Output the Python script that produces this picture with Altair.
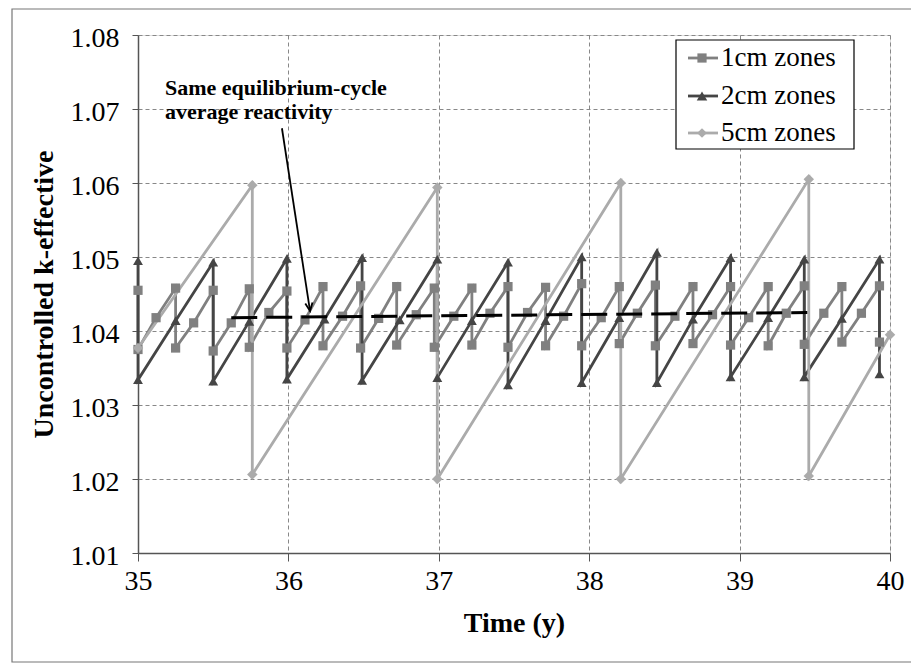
import altair as alt
import pandas as pd

# ---------------- data ----------------
series_names = ["1cm zones", "2cm zones", "5cm zones"]
series_colors = ["#808080", "#454545", "#ababab"]
series_shapes = ["square", "triangle-up", "diamond"]
series_sizes = [85, 110, 95]

t_1cm = [35.00, 35.00, 35.12, 35.25, 35.25, 35.37, 35.50, 35.50, 35.62, 35.74, 35.74, 35.87,
         35.99, 35.99, 36.11, 36.23, 36.23, 36.36, 36.48, 36.48, 36.60, 36.72, 36.72, 36.85,
         36.97, 36.97, 37.10, 37.22, 37.22, 37.34, 37.46, 37.46, 37.59, 37.71, 37.71, 37.83,
         37.95, 37.95, 38.08, 38.20, 38.20, 38.32, 38.44, 38.44, 38.57, 38.69, 38.69, 38.82,
         38.94, 38.94, 39.06, 39.19, 39.19, 39.31, 39.43, 39.43, 39.56, 39.68, 39.68, 39.81,
         39.93, 39.93]
k_1cm = [1.0455, 1.0375, 1.0418, 1.0458, 1.0377, 1.0411, 1.0455, 1.0373, 1.0411, 1.0457, 1.0378, 1.0425,
         1.0454, 1.0377, 1.0415, 1.0460, 1.0380, 1.0420, 1.0461, 1.0377, 1.0417, 1.0460, 1.0381, 1.0422,
         1.0458, 1.0378, 1.0420, 1.0458, 1.0381, 1.0424, 1.0460, 1.0378, 1.0425, 1.0459, 1.0380, 1.0420,
         1.0464, 1.0380, 1.0418, 1.0460, 1.0383, 1.0424, 1.0462, 1.0380, 1.0420, 1.0460, 1.0383, 1.0422,
         1.0460, 1.0381, 1.0418, 1.0460, 1.0380, 1.0424, 1.0461, 1.0382, 1.0424, 1.0460, 1.0385, 1.0424,
         1.0461, 1.0385]

t_2cm = [35.00, 35.00, 35.25, 35.50, 35.50, 35.74, 35.99, 35.99, 36.24, 36.49, 36.49, 36.74,
         36.99, 36.99, 37.22, 37.46, 37.46, 37.71, 37.95, 37.95, 38.20, 38.45, 38.45, 38.69,
         38.94, 38.94, 39.19, 39.43, 39.43, 39.68, 39.93, 39.93]
k_2cm = [1.0495, 1.0334, 1.0414, 1.0493, 1.0332, 1.0413, 1.0498, 1.0335, 1.0416, 1.0499, 1.0333, 1.0415,
         1.0497, 1.0337, 1.0414, 1.0493, 1.0327, 1.0414, 1.0500, 1.0330, 1.0418, 1.0506, 1.0330, 1.0416,
         1.0499, 1.0338, 1.0418, 1.0497, 1.0338, 1.0417, 1.0497, 1.0342]

t_5cm = [35.00, 35.76, 35.76, 36.99, 36.99, 38.21, 38.21, 39.46, 39.46, 40.00]
k_5cm = [1.0377, 1.0597, 1.0206, 1.0594, 1.0200, 1.0600, 1.0200, 1.0605, 1.0204, 1.0395]

t_avg = [35.62, 39.45]
k_avg = [1.0418, 1.0425]

t_arrow = [35.957, 36.144]
k_arrow = [1.0674, 1.0427]

annotation_lines = ["Same equilibrium-cycle", "average reactivity"]
x_ticks = [35, 36, 37, 38, 39, 40]
y_ticks = [1.01, 1.02, 1.03, 1.04, 1.05, 1.06, 1.07, 1.08]

FONT = "Liberation Serif"

# ---------------- tables ----------------
rows = []
for name, ts, ks in zip(series_names, [t_1cm, t_2cm, t_5cm], [k_1cm, k_2cm, k_5cm]):
    for i, (t, k) in enumerate(zip(ts, ks)):
        rows.append({"series": name, "t": t, "k": k, "idx": i})
df = pd.DataFrame(rows)
df_avg = pd.DataFrame({"t": t_avg, "k": k_avg})
df_arrow = pd.DataFrame({"t": t_arrow, "k": k_arrow, "idx": [0, 1]})
df_tip = df_arrow.iloc[[1]]

xscale = alt.Scale(domain=[35, 40], nice=False, zero=False)
yscale = alt.Scale(domain=[1.01, 1.08], nice=False, zero=False)

X = alt.X("t:Q", scale=xscale, axis=alt.Axis(
    values=x_ticks, format="d", title="Time (y)", labelFlush=False,
    labelFont=FONT, labelFontSize=28, labelColor="black", labelPadding=6,
    tickSize=8, tickColor="#555", domainColor="#555", domainWidth=1.5,
    grid=True, gridDash=[4, 3], gridColor="#888", gridWidth=1,
    titleFont=FONT, titleFontSize=28, titleFontWeight="bold", titleColor="black", titlePadding=14))
Y = alt.Y("k:Q", scale=yscale, axis=alt.Axis(
    values=y_ticks, format=".2f", title="Uncontrolled k-effective", labelFlush=False, labelOffset=3,
    labelFont=FONT, labelFontSize=28, labelColor="black", labelPadding=13,
    tickSize=6, tickColor="#555", domainColor="#555", domainWidth=1.5,
    grid=True, gridDash=[4, 3], gridColor="#888", gridWidth=1,
    titleFont=FONT, titleFontSize=28, titleFontWeight="bold", titleColor="black", titlePadding=12))
Xp = alt.X("t:Q", scale=xscale)
Yp = alt.Y("k:Q", scale=yscale)

color = alt.Color("series:N", scale=alt.Scale(domain=series_names, range=series_colors), legend=None)
shape = alt.Shape("series:N", scale=alt.Scale(domain=series_names, range=series_shapes), legend=None)
size = alt.Size("series:N", scale=alt.Scale(domain=series_names, range=series_sizes), legend=None)

base = alt.Chart(df)
lines = base.mark_line(strokeWidth=2.8).encode(x=X, y=Y, color=color, order=alt.Order("idx:Q"))
points = base.mark_point(filled=True, opacity=1).encode(x=Xp, y=Yp, color=color, shape=shape, size=size)

avg = alt.Chart(df_avg).mark_line(color="black", strokeWidth=3, strokeDash=[26, 9]).encode(x=Xp, y=Yp)

arrow = alt.Chart(df_arrow).mark_line(color="black", strokeWidth=1.8).encode(x=Xp, y=Yp, order="idx:Q")
tip = alt.Chart(df_tip).mark_point(shape="M-0.45,-1L0,0L0.45,-1", filled=False, color="black",
                                   strokeWidth=1.8, size=260, angle=351.5, opacity=1).encode(x=Xp, y=Yp)

one = pd.DataFrame({"a": [0]})


def text_at(txt, x, y, size, weight="normal"):
    return alt.Chart(pd.DataFrame({"text": [txt]})).mark_text(
        font=FONT, fontSize=size, fontWeight=weight, align="left", baseline="middle", color="black"
    ).encode(x=alt.value(x), y=alt.value(y), text="text:N")


ann_layers = [text_at(annotation_lines[0], 27, 53, 22, "bold"),
              text_at(annotation_lines[1], 27, 77, 22, "bold")]

# legend (boxed key)
leg_rows = [23, 61, 98]
leg_box = alt.Chart(one).mark_rect(fill="white", stroke="black", strokeWidth=1.2).encode(
    x=alt.value(538), x2=alt.value(716), y=alt.value(5), y2=alt.value(114))
leg_layers = [leg_box]
for name, col, shp, sz, yy in zip(series_names, series_colors, series_shapes, series_sizes, leg_rows):
    leg_layers.append(alt.Chart(one).mark_rule(strokeWidth=2.8, color=col).encode(
        x=alt.value(550), x2=alt.value(580), y=alt.value(yy)))
    leg_layers.append(alt.Chart(one).mark_point(filled=True, size=sz, opacity=1, color=col, shape=shp).encode(
        x=alt.value(564), y=alt.value(yy)))
    leg_layers.append(text_at(name, 583, yy, 27))

frame = alt.Chart(one).mark_rect(fill=None, stroke="#777", strokeWidth=1.2).encode(
    x=alt.value(-126), x2=alt.value(790), y=alt.value(-26), y2=alt.value(627))

chart = alt.layer(frame, lines, points, avg, arrow, tip, *ann_layers, *leg_layers).properties(
    width=752, height=518,
    autosize=alt.AutoSizeParams(type="none"),
    padding={"left": 138, "top": 35, "right": 21, "bottom": 112},
).configure_view(stroke=None).configure(background="white")

chart.save("out.html", embed_options={"renderer": "svg", "actions": False})
